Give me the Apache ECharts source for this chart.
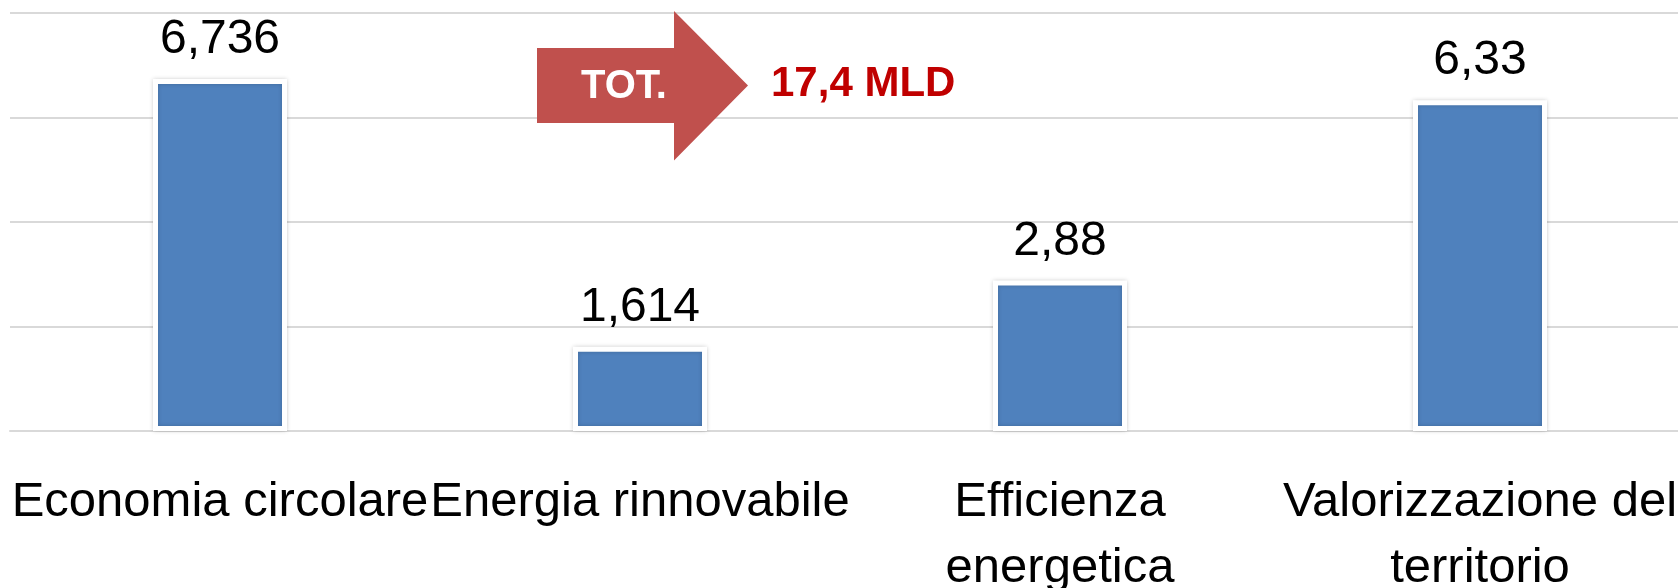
<!DOCTYPE html>
<html>
<head>
<meta charset="utf-8">
<script src="https://cdn.jsdelivr.net/npm/echarts@6/dist/echarts.min.js"></script>
<style>
html,body{margin:0;padding:0;background:#fff;}
#chart{width:1678px;height:588px;}
</style>
</head>
<body>
<div id="chart"></div>
<script>
var categories = ['Economia circolare', 'Energia rinnovabile', 'Efficienza\nenergetica', 'Valorizzazione del\nterritorio'];
var values = [6.736, 1.614, 2.88, 6.33];
var valueLabels = ['6,736', '1,614', '2,88', '6,33'];
var totalLabel = 'TOT.';
var totalValue = '17,4 MLD';

var FONT = '"Liberation Sans", Arial, sans-serif';
var chart = echarts.init(document.getElementById('chart'), null, {renderer: 'canvas'});
chart.setOption({
  animation: false,
  backgroundColor: '#ffffff',
  grid: {left: 10, right: -12, top: 13, bottom: 157, containLabel: false, outerBoundsMode: 'none'},
  xAxis: {
    type: 'category',
    data: categories,
    axisLine: {show: true, lineStyle: {color: '#D9D9D9', width: 2}},
    axisTick: {show: false},
    axisLabel: {
      interval: 0,
      margin: 38,
      color: '#000000',
      fontFamily: FONT,
      fontSize: 49,
      lineHeight: 66,
      verticalAlign: 'top'
    }
  },
  yAxis: {
    type: 'value',
    min: 0,
    max: 8,
    interval: 2,
    axisLine: {show: false},
    axisTick: {show: false},
    axisLabel: {show: false},
    splitLine: {lineStyle: {color: '#D9D9D9', width: 2}}
  },
  series: [{
    type: 'bar',
    data: values,
    barWidth: 134,
    itemStyle: {
      color: '#4F81BD',
      borderColor: '#ffffff',
      borderWidth: 5,
      shadowBlur: 4,
      shadowColor: 'rgba(0,0,0,0.18)'
    },
    label: {
      show: true,
      position: 'top',
      distance: 15,
      color: '#000000',
      fontFamily: FONT,
      fontSize: 48,
      formatter: function (p) { return valueLabels[p.dataIndex]; }
    }
  }],
  graphic: [
    {
      type: 'polygon',
      z: 10,
      shape: {points: [[537, 48], [674, 48], [674, 11], [748, 85.5], [674, 160.5], [674, 123], [537, 123]]},
      style: {fill: '#C0504D'}
    },
    {
      type: 'text',
      z: 11,
      x: 624, y: 87,
      style: {text: totalLabel, fill: '#ffffff', font: 'bold 40px ' + FONT, textAlign: 'center', textVerticalAlign: 'middle'}
    },
    {
      type: 'text',
      z: 11,
      x: 771, y: 84,
      style: {text: totalValue, fill: '#C00000', font: 'bold 42px ' + FONT, textAlign: 'left', textVerticalAlign: 'middle'}
    }
  ]
});
</script>
</body>
</html>
